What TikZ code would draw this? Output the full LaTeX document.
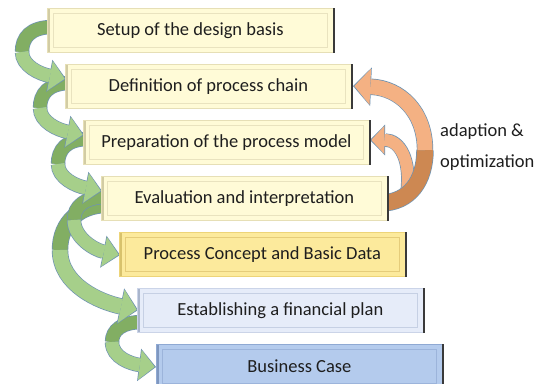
\documentclass[tikz,border=0pt]{standalone}
\usepackage{fontspec}
\setmainfont{Carlito}
\usetikzlibrary{arrows.meta}
\definecolor{crfill}{HTML}{FFFBD7}
\definecolor{crout}{HTML}{E6DFB6}
\definecolor{crin}{HTML}{E9E3BF}
\definecolor{crleft}{HTML}{D2CCA4}
\definecolor{yefill}{HTML}{FCEA9C}
\definecolor{yeout}{HTML}{EDD478}
\definecolor{yein}{HTML}{E5CC7A}
\definecolor{yeleft}{HTML}{D8C26C}
\definecolor{lbfill}{HTML}{E6ECF9}
\definecolor{lbout}{HTML}{CBD4E8}
\definecolor{lbin}{HTML}{C6D0E4}
\definecolor{lbleft}{HTML}{A9B5CC}
\definecolor{bufill}{HTML}{B4CBED}
\definecolor{buout}{HTML}{8FA9D3}
\definecolor{buin}{HTML}{9CB4DB}
\definecolor{buleft}{HTML}{7F97BF}
\definecolor{rline}{HTML}{3A3A3A}
\definecolor{txt}{HTML}{1E1E1E}
\definecolor{gfront}{HTML}{A6CF8A}
\definecolor{gback}{HTML}{82AE63}
\definecolor{ofront}{HTML}{F4B183}
\definecolor{oback}{HTML}{CD8852}
\definecolor{aline}{HTML}{6F93B2}
\newcommand\bandback[3]{% width, colour, path
  \pgfmathsetmacro\bwo{#1+1.4}%
  \draw[line width=\bwo pt, draw=aline] #3;
  \draw[line width=#1pt, draw=#2] #3;
}
\newcommand\bandfront[5]{% width, head width, head length, colour, path
  \pgfmathsetmacro\bwo{#1+1.4}\pgfmathsetmacro\hwo{#2+2.6}\pgfmathsetmacro\hlo{#3+2}%
  \draw[line width=\bwo pt, draw=aline, -{Triangle[width=\hwo pt, length=\hlo pt, line width=0pt]}] #5;
  \draw[line width=#1pt, draw=#4, shorten >=1.3pt, -{Triangle[width=#2pt, length=#3pt, line width=0pt]}] #5;
}
\tikzset{
  box/.style n args={4}{anchor=north west, minimum width=286pt, minimum height=44pt,
    inner sep=0pt, fill=#1, draw=#2, line width=0.8pt, text=txt,
    font=\fontsize{18.5}{22}\selectfont,
    path picture={
      \draw[line width=0.8pt, draw=#3]
        ([xshift=6pt,yshift=-5pt]path picture bounding box.north west) rectangle
        ([xshift=-6pt,yshift=5pt]path picture bounding box.south east);
      \fill[#4] (path picture bounding box.north west) rectangle
        ([xshift=2.5pt]path picture bounding box.south west);
    }},
  crbox/.style={box={crfill}{crout}{crin}{crleft}},
  yebox/.style={box={yefill}{yeout}{yein}{yeleft}},
  lbbox/.style={box={lbfill}{lbout}{lbin}{lbleft}},
  bubox/.style={box={bufill}{buout}{buin}{buleft}},
  redge/.style={draw=rline, line width=1.8pt},
  sidetext/.style={anchor=west, text=txt, font=\fontsize{18.5}{22}\selectfont, inner sep=0pt}
}
\begin{document}
\begin{tikzpicture}[x=1pt,y=-1pt]
\useasboundingbox (0,0) rectangle (553,383);
\fill[white] (0,0) rectangle (553,383);

% orange feedback arrows
\bandfront{12}{28}{13}{ofront}{(407,192) .. controls (411,160) and (400,140) .. (370,140)}
\bandback{16}{oback}{(380,203) .. controls (410,203) and (425,180) .. (425,150)}
\bandfront{15}{36}{16}{ofront}{(425,150) .. controls (425,112) and (400,88) .. (353,86)}

% green arrows (drawn from last to first)
\bandback{13}{gback}{(143,322) .. controls (122,322) and (112,330) .. (112,342)}
\bandfront{13}{30}{15}{gfront}{(112,342) .. controls (112,358) and (132,364) .. (156,367)}

\bandback{15}{gback}{(107,205) .. controls (80,205) and (60,222) .. (60,250)}
\bandfront{15}{34}{16}{gfront}{(60,250) .. controls (60,285) and (100,302) .. (138,310)}

\bandback{13}{gback}{(107,197) .. controls (85,197) and (74,206) .. (74,220)}
\bandfront{13}{30}{15}{gfront}{(74,220) .. controls (74,238) and (95,250) .. (120,255)}

\bandback{13}{gback}{(89,139) .. controls (66,139) and (58,150) .. (58,164)}
\bandfront{13}{30}{15}{gfront}{(58,164) .. controls (58,178) and (76,186) .. (102,191)}

\bandback{13}{gback}{(71,83) .. controls (48,83) and (40,94) .. (40,108)}
\bandfront{13}{30}{15}{gfront}{(40,108) .. controls (40,122) and (58,130) .. (84,135)}

\bandback{13}{gback}{(53,27) .. controls (30,27) and (22,38) .. (22,52)}
\bandfront{13}{30}{15}{gfront}{(22,52) .. controls (22,66) and (40,74) .. (66,79)}

% boxes
\node[crbox] (b1) at (47,8) {Setup of the design basis};
\node[crbox] (b2) at (65,64) {Definition of process chain};
\node[crbox] (b3) at (83,120) {Preparation of the process model};
\node[crbox] (b4) at (101,176) {Evaluation and interpretation};
\node[yebox] (b5) at (119,232) {Process Concept and Basic Data};
\node[lbbox] (b6) at (137,288) {Establishing a financial plan};
\node[bubox] (b7) at (156,344) {Business Case};
\foreach \b in {b1,b2,b3,b4,b5,b6,b7}{
  \draw[redge] ([xshift=0.5pt]\b.north east) -- ([xshift=0.5pt]\b.south east);
}

\node[sidetext] (t1) at (440,132) {adaption \&};
\node[sidetext] (t2) at (440,163) {optimization};
\end{tikzpicture}
\end{document}
